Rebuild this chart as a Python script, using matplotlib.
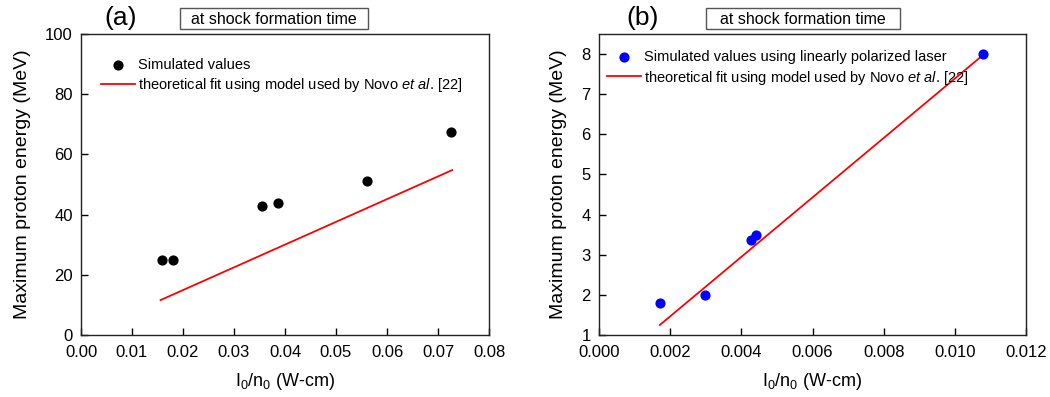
import numpy as np
import matplotlib
matplotlib.use("Agg")
import matplotlib.pyplot as plt
from matplotlib.patches import Rectangle

plt.rcParams['font.family'] = ['Liberation Sans', 'DejaVu Sans']
plt.rcParams['mathtext.fontset'] = 'custom'
plt.rcParams['mathtext.rm'] = 'Liberation Sans'
plt.rcParams['mathtext.it'] = 'Liberation Sans:italic'

# panel (a) data
a_x = [0.0158, 0.0180, 0.0354, 0.0386, 0.0560, 0.0726]
a_y = [25.0, 25.0, 42.9, 43.7, 51.2, 67.6]
a_fit_x = [0.0156, 0.0728]
a_fit_y = [11.6, 54.8]

# panel (b) data
b_x = [0.00171, 0.00299, 0.00426, 0.00440, 0.01080]
b_y = [1.80, 2.00, 3.37, 3.49, 8.00]
b_fit_x = [0.00171, 0.01077]
b_fit_y = [1.25, 7.96]

a_xticks = [0.00, 0.01, 0.02, 0.03, 0.04, 0.05, 0.06, 0.07, 0.08]
a_yticks = [0, 20, 40, 60, 80, 100]
b_xticks = [0.000, 0.002, 0.004, 0.006, 0.008, 0.010, 0.012]
b_yticks = [1, 2, 3, 4, 5, 6, 7, 8]

fit_label = r"theoretical fit using model used by Novo $\it{et\ al.}\,$[22]"

fig = plt.figure(figsize=(10.5, 3.97), dpi=100)
W, H = 1050, 397
ax1 = fig.add_axes([81 / W, 1 - 335 / H, (489 - 81) / W, (335 - 34) / H])
ax2 = fig.add_axes([599 / W, 1 - 335 / H, (1026 - 599) / W, (335 - 34) / H])


def style_axes(ax, xticks, yticks, xfmt, yfmt):
    ax.set_xticks(xticks)
    ax.set_yticks(yticks)
    ax.set_xticklabels([xfmt.format(v) for v in xticks])
    ax.set_yticklabels([yfmt.format(v) for v in yticks])
    ax.tick_params(direction='in', length=5, width=1, labelsize=12,
                   top=False, right=False)
    ax.tick_params(axis='x', pad=7)
    ax.tick_params(axis='y', pad=6)
    for s in ax.spines.values():
        s.set_linewidth(1.0)
        s.set_color('#222222')
    ax.set_xlabel(r"I$_0$/n$_0$ (W-cm)", fontsize=13, labelpad=8)
    ax.set_ylabel("Maximum proton energy (MeV)", fontsize=14, labelpad=10)


ax1.plot(a_fit_x, a_fit_y, color='red', lw=1.3, label=fit_label)
ax1.scatter(a_x, a_y, s=40, color='black', zorder=3, label="Simulated values")
ax1.set_xlim(0, 0.08)
ax1.set_ylim(0, 100)
style_axes(ax1, a_xticks, a_yticks, "{:.2f}", "{:d}")

ax2.plot(b_fit_x, b_fit_y, color='red', lw=1.3, label=fit_label)
ax2.scatter(b_x, b_y, s=40, color='blue', zorder=3,
            label="Simulated values using linearly polarized laser")
ax2.set_xlim(0, 0.012)
ax2.set_ylim(1, 8.5)
style_axes(ax2, b_xticks, b_yticks, "{:.3f}", "{:d}")

for ax, loc in [(ax1, (0.025, 0.955)), (ax2, (-0.005, 0.98))]:
    h, l = ax.get_legend_handles_labels()
    ax.legend(h[::-1], l[::-1], loc='upper left', bbox_to_anchor=loc,
              frameon=False, fontsize=10.5, handlelength=2.3, handletextpad=0.2,
              labelspacing=0.3, borderaxespad=0.3)

# panel labels and boxed titles
fig.text(121 / W, 1 - 18 / H, "(a)", fontsize=19, ha='center', va='center')
fig.text(643 / W, 1 - 18 / H, "(b)", fontsize=19, ha='center', va='center')
for x0, x1 in [(180, 368), (706, 900)]:
    fig.patches.append(Rectangle((x0 / W, 1 - 29 / H), (x1 - x0) / W, 21 / H,
                                 transform=fig.transFigure, fill=False,
                                 ec='#555555', lw=1))
    fig.text((x0 + x1) / 2 / W, 1 - 19 / H, "at shock formation time",
             fontsize=11.5, ha='center', va='center')

fig.savefig("out.png", dpi=100)
